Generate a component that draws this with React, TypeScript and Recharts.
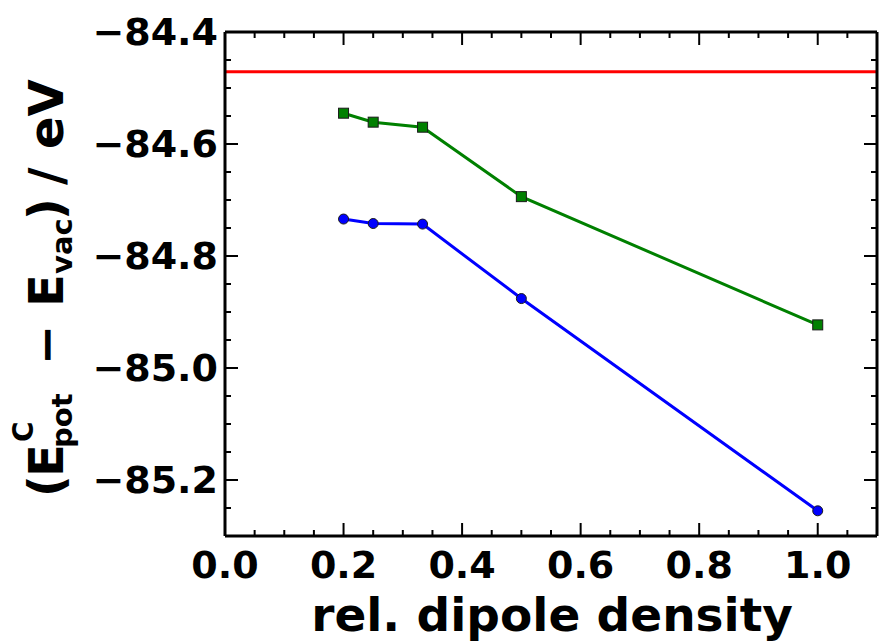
import React from 'react';
import { LineChart, Line, XAxis, YAxis, ReferenceLine } from 'recharts';

const dipoleDensity = [0.2, 0.25, 1 / 3, 0.5, 1.0];
const greenSeries = [-84.545, -84.561, -84.570, -84.694, -84.923];
const blueSeries = [-84.734, -84.742, -84.743, -84.876, -85.255];
const redLevel = -84.471;

const xTicks = [0, 0.05, 0.1, 0.15, 0.2, 0.25, 0.3, 0.35, 0.4, 0.45, 0.5, 0.55, 0.6, 0.65, 0.7, 0.75, 0.8, 0.85, 0.9, 0.95, 1.0, 1.05, 1.1];
const yTicks = [-85.3, -85.25, -85.2, -85.15, -85.1, -85.05, -85.0, -84.95, -84.9, -84.85, -84.8, -84.75, -84.7, -84.65, -84.6, -84.55, -84.5, -84.45, -84.4];
const xDomain = [0, 1.1];
const yDomain = [-85.3, -84.4];

const data = dipoleDensity.map((x, i) => ({ x, green: greenSeries[i], blue: blueSeries[i] }));

const FONT = '"DejaVu Sans", sans-serif';
const MAJOR = 13;
const MINOR = 6;

const isMajor = (v: number) => Math.abs(v / 0.2 - Math.round(v / 0.2)) < 1e-6;
const fmt = (v: number) => v.toFixed(1).replace('-', '\u2212');

const BottomTick = (p: any) => {
  const v = p.payload.value;
  const len = isMajor(v) ? MAJOR : MINOR;
  return (
    <g>
      <line x1={p.x} x2={p.x} y1={p.y} y2={p.y - len} stroke="#000" strokeWidth={2} />
      {isMajor(v) && (
        <text x={p.x} y={p.y + 42} textAnchor="middle" fontFamily={FONT} fontWeight={700} fontSize={38} fill="#000">
          {fmt(v)}
        </text>
      )}
    </g>
  );
};

const TopTick = (p: any) => {
  const v = p.payload.value;
  const len = isMajor(v) ? MAJOR : MINOR;
  return <line x1={p.x} x2={p.x} y1={p.y} y2={p.y + len} stroke="#000" strokeWidth={2} />;
};

const LeftTick = (p: any) => {
  const v = p.payload.value;
  const len = isMajor(v) ? MAJOR : MINOR;
  return (
    <g>
      <line x1={p.x} x2={p.x + len} y1={p.y} y2={p.y} stroke="#000" strokeWidth={2} />
      {isMajor(v) && (
        <text x={p.x - 7} y={p.y + 13} textAnchor="end" fontFamily={FONT} fontWeight={700} fontSize={38} fill="#000">
          {fmt(v)}
        </text>
      )}
    </g>
  );
};

const RightTick = (p: any) => {
  const v = p.payload.value;
  const len = isMajor(v) ? MAJOR : MINOR;
  return <line x1={p.x} x2={p.x - len} y1={p.y} y2={p.y} stroke="#000" strokeWidth={2} />;
};

const SquareDot = (p: any) => {
  if (p.cx == null || p.cy == null) return null;
  return <rect x={p.cx - 5} y={p.cy - 5} width={10} height={10} fill="#008000" stroke="#1a1a1a" strokeWidth={1} />;
};

const CircleDot = (p: any) => {
  if (p.cx == null || p.cy == null) return null;
  return <circle cx={p.cx} cy={p.cy} r={5} fill="#0000ff" stroke="#1a1a1a" strokeWidth={1} />;
};

const YLabel = () => (
  <text transform="translate(63, 0) rotate(-90)" textAnchor="start" fontFamily={FONT} fontWeight={700} fontSize={48} fill="#000">
    <tspan x={-497} y={0}>(</tspan>
    <tspan x={-477} y={0}>E</tspan>
    <tspan x={-442} y={-30} fontSize={28}>C</tspan>
    <tspan x={-448} y={9} fontSize={29}>pot</tspan>
    <tspan x={-365} y={0}>{'\u2212'}</tspan>
    <tspan x={-307} y={0}>E</tspan>
    <tspan x={-274} y={9} fontSize={29}>vac</tspan>
    <tspan x={-220} y={0}>)</tspan>
    <tspan x={-185} y={0}>/</tspan>
    <tspan x={-149} y={0}>eV</tspan>
  </text>
);

const XLabel = () => (
  <text x={552} y={631} textAnchor="middle" fontFamily={FONT} fontWeight={700} fontSize={47} fill="#000">
    rel. dipole density
  </text>
);

export default function App() {
  return (
    <div style={{ position: 'absolute', left: 0, top: 0, width: 879, height: 642, background: '#fff' }}>
      <LineChart width={879} height={642} data={data} margin={{ top: 2, right: 0, bottom: 0, left: 0 }}>
        <XAxis
          xAxisId="bottom"
          dataKey="x"
          type="number"
          domain={xDomain}
          ticks={xTicks}
          interval={0}
          allowDataOverflow
          orientation="bottom"
          height={106}
          tickSize={0}
          tickMargin={0}
          tickLine={false}
          axisLine={{ stroke: '#000', strokeWidth: 3 }}
          tick={BottomTick}
          label={{ content: XLabel }}
        />
        <XAxis
          xAxisId="top"
          dataKey="x"
          type="number"
          domain={xDomain}
          ticks={xTicks}
          interval={0}
          allowDataOverflow
          orientation="top"
          height={30}
          tickSize={0}
          tickMargin={0}
          tickLine={false}
          axisLine={{ stroke: '#000', strokeWidth: 3 }}
          tick={TopTick}
        />
        <YAxis
          yAxisId="left"
          type="number"
          domain={yDomain}
          ticks={yTicks}
          interval={0}
          allowDataOverflow
          orientation="left"
          width={225}
          tickSize={0}
          tickMargin={0}
          tickLine={false}
          axisLine={{ stroke: '#000', strokeWidth: 3 }}
          tick={LeftTick}
          label={{ content: YLabel }}
        />
        <YAxis
          yAxisId="right"
          type="number"
          domain={yDomain}
          ticks={yTicks}
          interval={0}
          allowDataOverflow
          orientation="right"
          width={2}
          tickSize={0}
          tickMargin={0}
          tickLine={false}
          axisLine={{ stroke: '#000', strokeWidth: 3 }}
          tick={RightTick}
        />
        <ReferenceLine xAxisId="bottom" yAxisId="left" y={redLevel} stroke="#ff0000" strokeWidth={3} />
        <Line xAxisId="bottom" yAxisId="left" dataKey="green" stroke="#008000" strokeWidth={3} dot={SquareDot} isAnimationActive={false} />
        <Line xAxisId="bottom" yAxisId="left" dataKey="blue" stroke="#0000ff" strokeWidth={3} dot={CircleDot} isAnimationActive={false} />
      </LineChart>
    </div>
  );
}
